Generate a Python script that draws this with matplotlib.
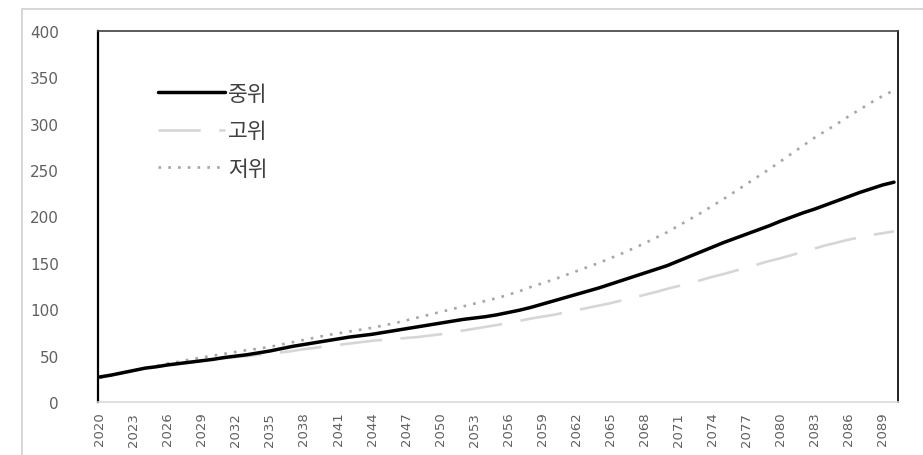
import matplotlib
matplotlib.use("Agg")
import matplotlib.pyplot as plt
from matplotlib.patches import Rectangle

plt.rcParams['font.family'] = ['Noto Sans CJK KR', 'DejaVu Sans']

years = list(range(2020, 2091))

median = [27, 29, 31.5, 34, 36.5, 38, 40, 41.5, 43, 44.5,
          46, 48, 49.5, 51, 53, 55, 57.5, 60, 62, 64,
          66, 68, 70, 71.5, 73, 75, 77, 79, 81, 83,
          85, 87, 89, 90.5, 92, 94, 96.5, 99, 102, 105.5,
          109, 112.5, 116, 119.5, 123, 127, 131, 135, 139, 143,
          147, 152, 157, 162, 167, 172, 176.5, 181, 185.5, 190,
          195, 199.5, 204, 208, 212.5, 217, 221.5, 226, 230, 234,
          237]

high = [26, 28.5, 31, 33.5, 36, 38, 39.5, 41, 42.5, 44,
        45.5, 47, 48.5, 49.5, 51, 52, 53.5, 55, 57, 58.5,
        60, 61.5, 63, 64.5, 66, 67, 68, 69, 70, 71.5,
        73, 75, 77, 79, 81, 83, 85, 87.5, 90, 92,
        94, 96.5, 99, 101.5, 104, 106.5, 109.5, 112.5, 115.5, 118.5,
        122, 125, 128, 131.5, 135, 138, 141.5, 145, 148.5, 152,
        155, 158.5, 162, 165.5, 169, 172, 175, 177.5, 180, 182,
        184]

low = [26, 28.5, 31, 34, 36.5, 39, 41.5, 43.5, 46, 48,
       50, 52, 54, 56, 57.5, 59.5, 62, 64.5, 67, 69.5,
       72, 74, 76, 78, 80, 82.5, 85, 88, 91, 94,
       97, 100, 103, 106, 109, 112, 115.5, 119.5, 124, 128,
       132, 136.5, 141, 145.5, 150, 155, 160, 165.5, 171, 177,
       183, 190, 197, 204, 211.5, 219, 227, 235, 243, 251,
       259.5, 268, 276.5, 285, 292.5, 300, 308, 315.5, 323, 330,
       336]

labels = ['중위', '고위', '저위']
xtick_years = list(range(2020, 2090, 3))
ytick_vals = [0, 50, 100, 150, 200, 250, 300, 350, 400]

W, H = 923, 456
fig = plt.figure(figsize=(W / 100, H / 100), dpi=100)
fig.patch.set_facecolor('white')

# outer chart frame
fig.patches.append(Rectangle((22 / W, -0.1), 2, (H - 10) / H + 0.1,
                             transform=fig.transFigure, fill=False,
                             edgecolor='#d0d0d0', linewidth=1.2))

ax = fig.add_axes([98 / W, (H - 403) / H, 800 / W, 371 / H])

ax.plot(years, median, color='black', lw=2.5, label=labels[0],
        solid_capstyle='round', zorder=4)
ax.plot(years, high, color='#d6d6d6', lw=1.9, ls=(0, (16, 7)),
        label=labels[1], zorder=3)
ax.plot(years, low, color='#a6a6a6', lw=1.9, ls=(0, (1, 2.7)),
        label=labels[2], zorder=3)

ax.set_xlim(2019.85, 2090.35)
ax.set_ylim(0, 400)
ax.set_yticks(ytick_vals)
ax.set_xticks(xtick_years)
ax.set_xticklabels([str(y) for y in xtick_years], rotation=90)

ax.tick_params(axis='y', length=0, pad=28, labelsize=11, labelcolor='#606060')
ax.tick_params(axis='x', length=0, pad=7, labelsize=9.5, labelcolor='#606060')
for t in ax.get_yticklabels():
    t.set_fontfamily('DejaVu Sans')
for t in ax.get_xticklabels():
    t.set_fontfamily('DejaVu Sans')

ax.spines['left'].set_color('black')
ax.spines['left'].set_linewidth(1.6)
ax.spines['right'].set_color('#202020')
ax.spines['right'].set_linewidth(1.4)
ax.spines['top'].set_color('#404040')
ax.spines['top'].set_linewidth(1.2)
ax.spines['bottom'].set_color('#d9d9d9')
ax.spines['bottom'].set_linewidth(1.2)

leg = ax.legend(loc='upper left', bbox_to_anchor=(158 / W, 1 - 84 / H),
                bbox_transform=fig.transFigure, frameon=False,
                borderpad=0, borderaxespad=0, handlelength=3.1,
                handletextpad=0.15, labelspacing=0.72, fontsize=15.5)
for t in leg.get_texts():
    t.set_color('#404040')

fig.savefig('out.png', dpi=100, facecolor='white')
